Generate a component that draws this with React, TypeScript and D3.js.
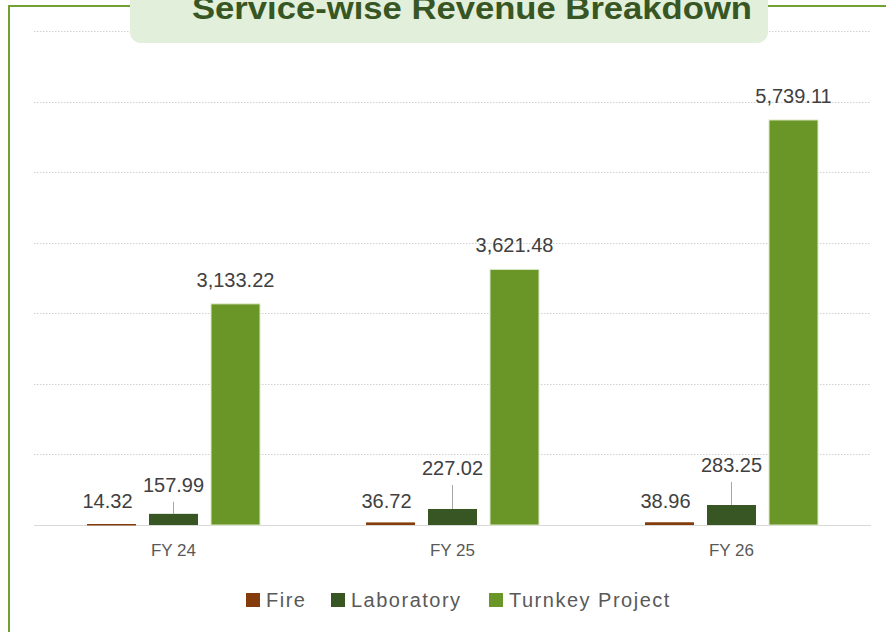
import * as d3 from 'd3';

// DATA
const YEARS = ['FY 24', 'FY 25', 'FY 26'];
const SERIES = ['Fire', 'Laboratory', 'Turnkey Project'];
const FIRE = [14.32, 36.72, 38.96];
const LAB = [157.99, 227.02, 283.25];
const TURNKEY = [3133.22, 3621.48, 5739.11];
const Y_TICKS = [0, 1000, 2000, 3000, 4000, 5000, 6000, 7000];
// how far above the bar top the lab labels were dragged in the original
const LAB_LABEL_LIFT = [22, 34, 33];

// RENDERING SETUP
const W = 886;
const H = 632;
const PLOT = { LEFT: 34, RIGHT: 871, TOP: 31, BOTTOM: 525 };
const COLOR = {
  Fire: '#843c0c',
  Laboratory: '#375623',
  'Turnkey Project': '#6a9628',
  FRAME: '#70a132',
  TITLE_BG: '#e2efda',
  TITLE: '#375623',
  GRID: '#d0d0d0',
  TEXT: '#404040',
  AXIS_TEXT: '#595959',
};
const FONT = '"Liberation Sans", Arial, sans-serif';

const values: Record<string, number[]> = {
  Fire: FIRE,
  Laboratory: LAB,
  'Turnkey Project': TURNKEY,
};

export default function App() {
  const x0 = d3.scaleBand().domain(YEARS).range([PLOT.LEFT, PLOT.RIGHT]).padding(0);
  const x1 = d3
    .scaleBand()
    .domain(SERIES)
    .range([0, x0.bandwidth()])
    .paddingInner(0.21)
    .paddingOuter(0.855);
  const y = d3.scaleLinear().domain([0, 7000]).range([PLOT.BOTTOM, PLOT.TOP]);

  // label baseline, placed like the original chart
  const labelY = (s: string, v: number, i: number) => {
    if (s === 'Fire') return y(0) - 17;
    if (s === 'Laboratory') return y(v) - LAB_LABEL_LIFT[i];
    return y(v) - 17;
  };

  return (
    <svg width={W} height={H} style={{ display: 'block', position: 'absolute', left: 0, top: 0 }}>
      <rect x={0} y={0} width={W} height={H} fill="#fff" />
      {/* frame */}
      <line x1={9} y1={6} x2={W} y2={6} stroke={COLOR.FRAME} strokeWidth={2} />
      <line x1={9} y1={5} x2={9} y2={H} stroke={COLOR.FRAME} strokeWidth={2} />

      {/* grid */}
      {Y_TICKS.slice(1).map((t) => (
        <line
          key={t}
          x1={PLOT.LEFT}
          x2={PLOT.RIGHT}
          y1={Math.round(y(t)) + 0.5}
          y2={Math.round(y(t)) + 0.5}
          stroke={COLOR.GRID}
          strokeWidth={1}
          strokeDasharray="1.5 1.5"
        />
      ))}
      <line
        x1={PLOT.LEFT}
        x2={PLOT.RIGHT}
        y1={y(0) + 0.5}
        y2={y(0) + 0.5}
        stroke="#d9d9d9"
        strokeWidth={1}
      />

      {/* title */}
      <rect x={130} y={-20} width={638} height={63} rx={11} fill={COLOR.TITLE_BG} />
      <text
        x={192}
        y={19}
        textLength={560}
        lengthAdjust="spacingAndGlyphs"
        fontFamily={FONT}
        fontWeight="bold"
        fontSize={31}
        fill={COLOR.TITLE}
      >
        Service-wise Revenue Breakdown
      </text>

      {/* bars */}
      {YEARS.map((yr, i) => (
        <g key={yr} transform={`translate(${x0(yr)},0)`}>
          {SERIES.map((s) => {
            const v = values[s][i];
            const bx = x1(s)!;
            const bw = x1.bandwidth();
            const ly = labelY(s, v, i);
            const top = y(v);
            return (
              <g key={s}>
                <rect
                  x={bx}
                  y={top}
                  width={bw}
                  height={Math.max(y(0) - top, 1.5)}
                  fill={COLOR[s as keyof typeof COLOR]}
                  stroke={s === 'Turnkey Project' ? '#dbe8c8' : 'none'}
                  strokeWidth={1}
                />
                {s === 'Laboratory' && (
                  <line
                    x1={bx + bw / 2}
                    x2={bx + bw / 2}
                    y1={ly + 10}
                    y2={top}
                    stroke="#a6a6a6"
                    strokeWidth={1}
                  />
                )}
                <text
                  x={bx + bw / 2 - (s === 'Fire' ? 4 : 0)}
                  y={ly}
                  textAnchor="middle"
                  fontFamily={FONT}
                  fontSize={20}
                  fill={COLOR.TEXT}
                >
                  {d3.format(',.2f')(v)}
                </text>
              </g>
            );
          })}
          <text
            x={x0.bandwidth() / 2}
            y={556}
            textAnchor="middle"
            fontFamily={FONT}
            fontSize={17}
            fill={COLOR.AXIS_TEXT}
          >
            {yr}
          </text>
        </g>
      ))}

      {/* legend */}
      {SERIES.map((s, i) => {
        const lx = [246, 331, 489][i];
        return (
          <g key={s} transform={`translate(${lx},593)`}>
            <rect x={0} y={0} width={14} height={14} fill={COLOR[s as keyof typeof COLOR]} />
            <text
              x={20}
              y={14}
              fontFamily={FONT}
              fontSize={20}
              letterSpacing={1.5}
              fill={COLOR.AXIS_TEXT}
            >
              {s}
            </text>
          </g>
        );
      })}
    </svg>
  );
}
